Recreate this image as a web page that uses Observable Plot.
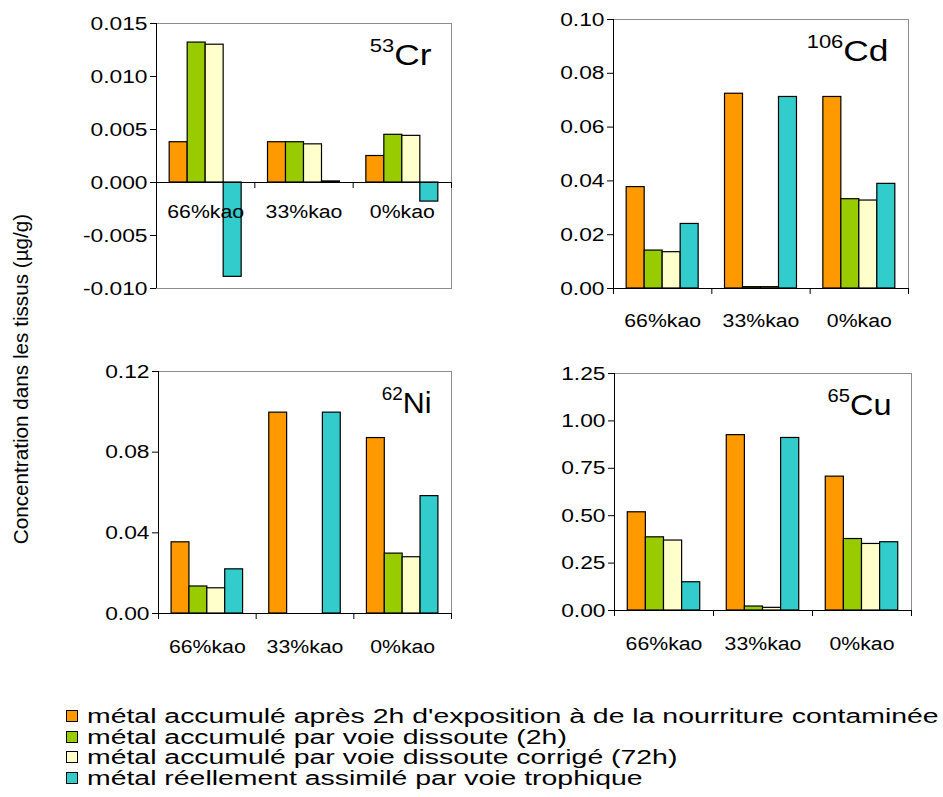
<!DOCTYPE html>
<html><head><meta charset="utf-8">
<script src="https://cdn.jsdelivr.net/npm/d3@7"></script>
<script src="https://cdn.jsdelivr.net/npm/@observablehq/plot@0.6"></script>
<style>
body{margin:0;background:#fff;font-family:"Liberation Sans",Arial,sans-serif;}
#chart{position:relative;width:943px;height:797px;overflow:hidden;background:#fff;}
#chart svg{position:absolute;}
.ytitle{position:absolute;left:21px;top:379px;transform:translate(-50%,-50%) rotate(-90deg);white-space:nowrap;font-size:20.7px;color:#000;}
.legend{position:absolute;left:66px;top:706px;}
.legend .row{height:20.5px;display:flex;align-items:center;white-space:nowrap;}
.legend .sw{width:10px;height:10px;border:1px solid #000;margin-right:9px;flex:none;}
.legend .lab{font-size:20px;display:inline-block;transform:scaleX(1.42);transform-origin:left center;line-height:18px;}
</style></head>
<body><div id="chart"></div>
<script>
const categories = ["66%kao", "33%kao", "0%kao"];
const series = [
  "métal accumulé après 2h d'exposition à de la nourriture contaminée",
  "métal accumulé par voie dissoute (2h)",
  "métal accumulé par voie dissoute corrigé (72h)",
  "métal réellement assimilé par voie trophique"
];
const seriesColors = ["#FF9900", "#99CC00", "#FFFFCC", "#33CCCC"];
const yTitle = "Concentration dans les tissus (µg/g)";

// values per category (rows) and series (columns)
const cr53 = [[0.0038, 0.0132, 0.0130, -0.0089], [0.0038, 0.0038, 0.0036, 0.0001], [0.0025, 0.0045, 0.0044, -0.0018]];
const cd106 = [[0.0377, 0.0141, 0.0135, 0.0240], [0.0724, 0.0005, 0.0005, 0.0712], [0.0712, 0.0332, 0.0327, 0.0389]];
const ni62 = [[0.0353, 0.0134, 0.0125, 0.0219], [0.0996, 0, 0, 0.0996], [0.0870, 0.0297, 0.0279, 0.0582]];
const cu65 = [[0.518, 0.386, 0.369, 0.149], [0.925, 0.021, 0.014, 0.910], [0.706, 0.377, 0.351, 0.360]];

const crTicks = [-0.010, -0.005, 0.000, 0.005, 0.010, 0.015];
const cdTicks = [0.00, 0.02, 0.04, 0.06, 0.08, 0.10];
const niTicks = [0.00, 0.04, 0.08, 0.12];
const cuTicks = [0.00, 0.25, 0.50, 0.75, 1.00, 1.25];

const FONT = "Liberation Sans, Arial, sans-serif";
const groupOffset = 0.134, barWidth = 0.183;

function stretch(el, k) {
  const t = el.getAttribute("transform") || "";
  el.setAttribute("transform", t + ` scale(${k},1)`);
}

function panel(values, o) {
  const data = values.flatMap((row, ci) => row.map((v, si) => ({ci, si, series: series[si], value: v})));
  const svg = Plot.plot({
    width: o.width, height: o.height,
    marginLeft: o.ml, marginRight: o.mr, marginTop: o.mt, marginBottom: o.mb,
    style: {fontFamily: FONT, fontSize: "19px", background: "transparent", overflow: "visible", color: "#000"},
    x: {domain: [0, categories.length], axis: null},
    y: {domain: [o.ticks[0], o.ticks[o.ticks.length - 1]], axis: null},
    color: {domain: series, range: seriesColors},
    marks: [
      Plot.frame({stroke: "#8c8c8c"}),
      Plot.rectY(data, {
        x1: d => d.ci + groupOffset + d.si * barWidth,
        x2: d => d.ci + groupOffset + (d.si + 1) * barWidth,
        y1: 0, y2: "value", fill: "series", stroke: "#000", strokeWidth: 1.2
      }),
      Plot.ruleY([0], {stroke: "#000"}),
      Plot.ruleX([0], {stroke: "#000"}),
      Plot.ruleX(d3.range(categories.length + 1), {y1: 0, y2: 0, insetBottom: -6, stroke: "#000"}),
      Plot.axisY({ticks: o.ticks, tickFormat: o.fmt, tickSize: 6, tickPadding: 3, fontSize: 19, label: null}),
      Plot.text(categories, {x: (d, i) => i + 0.5, y: 0, dy: o.labelDy, fontSize: 19}),
      Plot.text([o.symbol], {frameAnchor: "top-right", dx: -20, dy: 21, textAnchor: "end", fontSize: 29})
    ]
  });
  const root = d3.select(svg);
  root.selectAll("text").each(function () {
    const g = this.closest("g[aria-label]");
    const lab = g ? g.getAttribute("aria-label") : "";
    if (this.textContent === o.symbol) {
      const t = d3.select(this);
      t.text(null);
      t.append("tspan").attr("font-size", 18).attr("dy", -13).text(o.mass);
      t.append("tspan").attr("font-size", 29).attr("dy", 13).text(o.symbol);
      stretch(this, o.symbolStretch);
    } else if (lab.includes("tick label")) {
      stretch(this, 1.2);
    } else {
      stretch(this, 1.12);
    }
  });
  svg.style.left = o.left + "px";
  svg.style.top = o.top + "px";
  return svg;
}

const chart = document.getElementById("chart");
chart.append(panel(cr53, {ticks: crTicks, fmt: d => d.toFixed(3), left: 0, top: 0, width: 471, height: 340, ml: 156, mr: 20, mt: 23, mb: 52, symbol: "Cr", mass: "53", labelDy: 29, symbolStretch: 1.22}));
chart.append(panel(cd106, {ticks: cdTicks, fmt: d => d.toFixed(2), left: 471, top: 0, width: 472, height: 340, ml: 142, mr: 35, mt: 19, mb: 52, symbol: "Cd", mass: "106", labelDy: 32, symbolStretch: 1.22}));
chart.append(panel(ni62, {ticks: niTicks, fmt: d => d.toFixed(2), left: 0, top: 340, width: 471, height: 340, ml: 158, mr: 20, mt: 31, mb: 67, symbol: "Ni", mass: "62", labelDy: 33, symbolStretch: 1.05}));
chart.append(panel(cu65, {ticks: cuTicks, fmt: d => d.toFixed(2), left: 471, top: 340, width: 472, height: 340, ml: 143, mr: 32, mt: 33, mb: 70, symbol: "Cu", mass: "65", labelDy: 33, symbolStretch: 1.12}));

const title = document.createElement("div");
title.className = "ytitle";
title.textContent = yTitle;
chart.append(title);

const legend = document.createElement("div");
legend.className = "legend";
series.forEach((s, i) => {
  const row = document.createElement("div");
  row.className = "row";
  const sw = document.createElement("span");
  sw.className = "sw";
  sw.style.background = seriesColors[i];
  const lab = document.createElement("span");
  lab.className = "lab";
  lab.textContent = s;
  row.append(sw, lab);
  legend.append(row);
});
chart.append(legend);
</script>
</body></html>
